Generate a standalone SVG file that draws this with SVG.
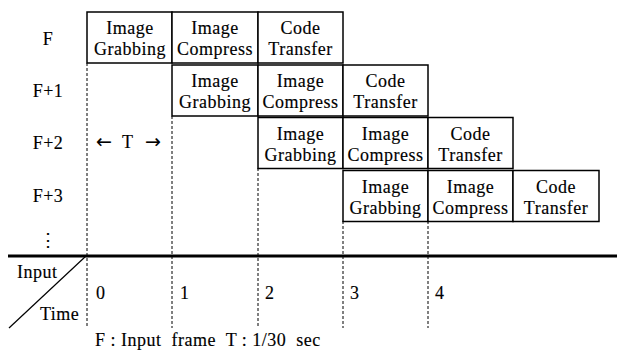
<svg xmlns="http://www.w3.org/2000/svg" width="629" height="353" viewBox="0 0 629 353">
<style>
text{font-family:"Liberation Serif","Times New Roman",serif;font-size:18px;fill:#000;stroke:#000;stroke-width:0.15;letter-spacing:0.5px}
.c{text-anchor:middle}
.arr{font-family:"DejaVu Sans",sans-serif;font-size:19px;letter-spacing:0;stroke-width:0.1}
.box{fill:#fff;stroke:#000;stroke-width:1.5}
.dash{stroke:#000;stroke-width:1;stroke-dasharray:3 2;fill:none}
</style>
<rect width="629" height="353" fill="#fff"/>
<g id="connectors">
<line class="dash" x1="87" y1="63" x2="87" y2="328"/>
<line class="dash" x1="172" y1="116" x2="172" y2="328"/>
<line class="dash" x1="258" y1="168" x2="258" y2="328"/>
<line class="dash" x1="343" y1="221" x2="343" y2="328"/>
<line class="dash" x1="428" y1="221" x2="428" y2="328"/>
<line x1="8" y1="256" x2="617" y2="256" stroke="#000" stroke-width="3"/>
<line x1="9" y1="328" x2="86" y2="256" stroke="#000" stroke-width="1.2"/>
</g>
<g id="row-labels">
<text class="c" x="48" y="45">F</text>
<text class="c" x="48" y="97">F+1</text>
<text class="c" x="48" y="149">F+2</text>
<text class="c" x="48" y="202">F+3</text>
<text class="c" x="48" y="246">⋮</text>
</g>
<g id="f0-grab"><rect class="box" x="87" y="12" width="85" height="51"/><text class="c" x="130" y="34">Image</text><text class="c" x="130" y="55">Grabbing</text></g>
<g id="f0-comp"><rect class="box" x="172" y="12" width="86" height="51"/><text class="c" x="215" y="34">Image</text><text class="c" x="215" y="55">Compress</text></g>
<g id="f0-code"><rect class="box" x="258" y="12" width="85" height="51"/><text class="c" x="300.5" y="34">Code</text><text class="c" x="300.5" y="55">Transfer</text></g>
<g id="f1-grab"><rect class="box" x="172" y="65" width="86" height="51"/><text class="c" x="215" y="87">Image</text><text class="c" x="215" y="108">Grabbing</text></g>
<g id="f1-comp"><rect class="box" x="258" y="65" width="85" height="51"/><text class="c" x="300.5" y="87">Image</text><text class="c" x="300.5" y="108">Compress</text></g>
<g id="f1-code"><rect class="box" x="343" y="65" width="85" height="51"/><text class="c" x="385.5" y="87">Code</text><text class="c" x="385.5" y="108">Transfer</text></g>
<g id="f2-grab"><rect class="box" x="258" y="117.5" width="85" height="51"/><text class="c" x="300.5" y="139.5">Image</text><text class="c" x="300.5" y="160.5">Grabbing</text></g>
<g id="f2-comp"><rect class="box" x="343" y="117.5" width="85" height="51"/><text class="c" x="385.5" y="139.5">Image</text><text class="c" x="385.5" y="160.5">Compress</text></g>
<g id="f2-code"><rect class="box" x="428" y="117.5" width="85" height="51"/><text class="c" x="470.5" y="139.5">Code</text><text class="c" x="470.5" y="160.5">Transfer</text></g>
<g id="f3-grab"><rect class="box" x="343" y="170.5" width="85" height="51"/><text class="c" x="385.5" y="192.5">Image</text><text class="c" x="385.5" y="213.5">Grabbing</text></g>
<g id="f3-comp"><rect class="box" x="428" y="170.5" width="85" height="51"/><text class="c" x="470.5" y="192.5">Image</text><text class="c" x="470.5" y="213.5">Compress</text></g>
<g id="f3-code"><rect class="box" x="513" y="170.5" width="86" height="51"/><text class="c" x="556" y="192.5">Code</text><text class="c" x="556" y="213.5">Transfer</text></g>
<g id="period"><text x="96" y="148"><tspan class="arr">←</tspan><tspan x="122">T</tspan><tspan class="arr" x="145">→</tspan></text></g>
<g id="axis-labels">
<text x="17" y="278">Input</text>
<text x="40" y="320">Time</text>
<text x="96" y="299">0</text>
<text x="180" y="299">1</text>
<text x="265" y="299">2</text>
<text x="350" y="299">3</text>
<text x="435" y="299">4</text>
</g>
<g id="legend"><text x="95" y="346" xml:space="preserve">F : Input  frame  T : 1/30  sec</text></g>
</svg>
